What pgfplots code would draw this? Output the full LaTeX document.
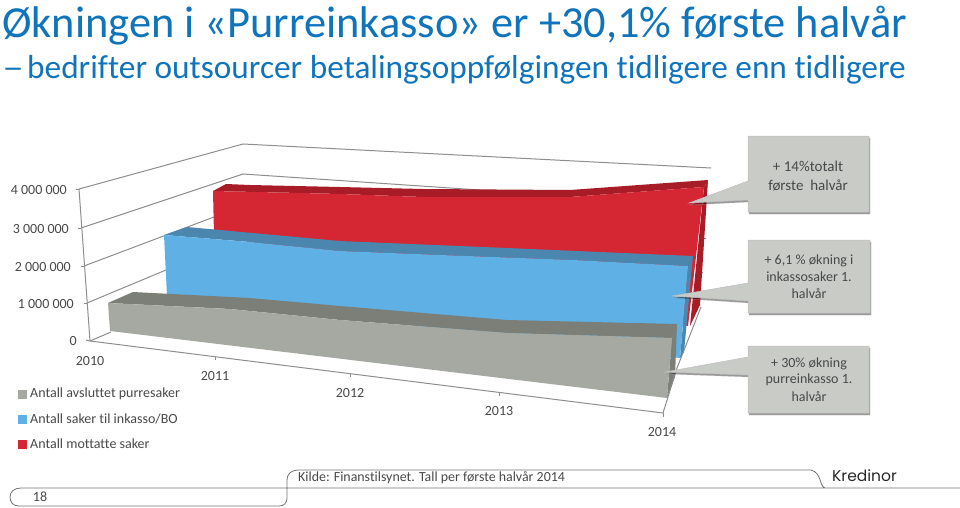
\documentclass[border=0pt]{standalone}
\usepackage{fontspec}
\setmainfont{Carlito}[Ligatures={TeX,NoCommon}]
\newfontfamily\logofont{Poppins}
\usepackage{pgfplots}
\pgfplotsset{compat=1.18}
\usetikzlibrary{shadows}

\definecolor{titleblue}{HTML}{0F74BC}
\definecolor{txt}{HTML}{484848}
\definecolor{wall}{HTML}{8E8E8E}
\definecolor{redf}{HTML}{D42633}
\definecolor{redt}{HTML}{A71C26}
\definecolor{bluef}{HTML}{5EB0E5}
\definecolor{bluet}{HTML}{4A86AE}
\definecolor{grayf}{HTML}{A6A9A1}
\definecolor{grayt}{HTML}{7C7E78}
\definecolor{boxfill}{HTML}{C9CBC7}

\begin{document}
\begin{tikzpicture}
\useasboundingbox (0,0) rectangle (960pt,508pt);
\begin{axis}[
    at={(0,0)}, anchor=south west,
    scale only axis, width=960pt, height=508pt,
    xmin=0, xmax=960, ymin=0, ymax=508,
    y dir=reverse,
    hide axis, clip=false,
    every axis plot/.append style={mark=none},
    face/.style={fill=#1, draw=none},
    grid3d/.style={draw=wall, line width=1pt},
    callout/.style={fill=boxfill, draw=black!25, line width=0.5pt,
        drop shadow={shadow xshift=1pt, shadow yshift=-2pt, opacity=0.4, fill=black}},
]
% walls and gridlines
\addplot[grid3d] coordinates {(79,189) (243,144) (711,168)};
\addplot[grid3d] coordinates {(81,228) (243,174) (480,190)};
\addplot[grid3d] coordinates {(84,266) (214,217)};
\addplot[grid3d] coordinates {(87,303) (166,270)};
\addplot[grid3d] coordinates {(90,341) (111,332)};
\addplot[grid3d] coordinates {(79,189) (90,341)};
\addplot[grid3d] coordinates {(76,189) (79,189)};
\addplot[grid3d] coordinates {(78,228) (81,228)};
\addplot[grid3d] coordinates {(81,266) (84,266)};
\addplot[grid3d] coordinates {(84,303) (87,303)};
\addplot[grid3d] coordinates {(86,340) (90,341)};
\addplot[grid3d] coordinates {(702,238) (706,238)};
\addplot[grid3d] coordinates {(698,272) (703,272)};

% red series: Antall mottatte saker
\addplot[face=redt] coordinates {(704,187) (708,180) (700,305) (690,326) (704,187)};
\addplot[face=redt] coordinates {(213,191) (226,184) (250,185) (340,187) (423,189) (570,190) (708,180) (704,187) (570,197) (423,197) (340,194) (300,193) (213,191)};
\addplot[face=redf] coordinates {(213,191) (300,193) (340,194) (423,197) (570,197) (704,187) (688,326) (214,235) (213,191)};

% blue series: Antall saker til inkasso/BO
\addplot[face=bluet] coordinates {(688,266) (693,256) (684,352) (680,358) (688,266)};
\addplot[face=bluet] coordinates {(164,235) (187,227) (340,241) (507,248) (693,256) (688,266) (573,260) (440,255) (340,251) (250,242) (164,235)};
\addplot[face=bluef] coordinates {(164,235) (250,242) (340,251) (440,255) (573,260) (688,266) (680,358) (167,296) (164,235)};

% gray series: Antall avsluttet purresaker
\addplot[face=grayt] coordinates {(672,338) (677,324) (675,377) (667,398) (672,338)};
\addplot[face=grayt] coordinates {(108,303) (133,292) (250,298) (340,306) (507,320) (677,324) (672,338) (507,333) (340,320) (230,309) (108,303)};
\addplot[face=grayf] coordinates {(108,303) (230,309) (340,320) (507,333) (672,338) (667,398) (110,331) (108,303)};

% floor
\addplot[grid3d] coordinates {(90,341) (663,413)};
\addplot[grid3d] coordinates {(663,413) (677,368) (690,335) (701,307)};
\addplot[grid3d] coordinates {(215,357) (215,360)};
\addplot[grid3d] coordinates {(350,374) (350,377)};
\addplot[grid3d] coordinates {(499,392) (499,396)};
\addplot[grid3d] coordinates {(663,413) (663,417)};

% callouts
\addplot[callout] coordinates {(748,136) (869,136) (869,212) (748,212) (748,200) (689,203) (748,181) (748,136)};
\addplot[callout] coordinates {(748,240) (870,240) (870,313) (748,313) (748,301) (672,296) (748,283) (748,240)};
\addplot[callout] coordinates {(748,346) (869,346) (869,413) (748,413) (748,375) (665,372) (748,357) (748,346)};

% legend
\addplot[only marks, mark=square*, mark size=4pt, color=grayf] coordinates {(22,394)};
\addplot[only marks, mark=square*, mark size=4pt, color=bluef] coordinates {(22,419)};
\addplot[only marks, mark=square*, mark size=4pt, color=redf] coordinates {(22,444)};

% title
\node[anchor=base west, inner sep=0, text=titleblue, font=\fontsize{44.4}{44.4}\selectfont] at (axis cs:2,38) {Økningen i «Purreinkasso» er +30,1\% første halvår};
\node[anchor=base west, inner sep=0, text=titleblue, transform shape, xscale=1.3, font=\fontsize{33.3}{33.3}\selectfont] at (axis cs:2,79) {–};
\node[anchor=base west, inner sep=0, text=titleblue, font=\fontsize{33.3}{33.3}\selectfont] at (axis cs:27,79) {bedrifter outsourcer betalingsoppfølgingen tidligere enn tidligere};

% tick labels
\begin{scope}[every node/.style={text=txt, inner sep=0, font=\fontsize{14}{14}\selectfont}]
\node[anchor=east] at (axis cs:67,190) {4 000 000};
\node[anchor=east] at (axis cs:69,229) {3 000 000};
\node[anchor=east] at (axis cs:71,267) {2 000 000};
\node[anchor=east] at (axis cs:74,304) {1 000 000};
\node[anchor=east] at (axis cs:77,341) {0};
\node at (axis cs:90,361) {2010};
\node at (axis cs:215,376) {2011};
\node at (axis cs:350,393) {2012};
\node at (axis cs:499,411) {2013};
\node at (axis cs:662,432) {2014};
\node[anchor=west] at (axis cs:30,394) {Antall avsluttet purresaker};
\node[anchor=west] at (axis cs:30,419) {Antall saker til inkasso/BO};
\node[anchor=west] at (axis cs:30,444) {Antall mottatte saker};
\node at (axis cs:40,497) {18};
\node[anchor=west, font=\fontsize{13.9}{13.9}\selectfont] at (axis cs:298,478) {Kilde: Finanstilsynet. Tall per første halvår 2014};
\node[font=\fontsize{15}{15}\selectfont] at (axis cs:808,166) {+ 14\%totalt};
\node[font=\fontsize{15}{15}\selectfont] at (axis cs:808,185) {første\ \ halvår};
\node at (axis cs:809,261) {+ 6,1 \% økning i};
\node at (axis cs:809,277) {inkassosaker 1.};
\node at (axis cs:809,294) {halvår};
\node at (axis cs:809,364) {+ 30\% økning};
\node at (axis cs:809,380) {purreinkasso 1.};
\node at (axis cs:809,397) {halvår};
\end{scope}

% footer tabs
\draw[black!55, line width=0.8pt] (axis cs:960,488) -- (axis cs:825,488)
  .. controls (axis cs:819,486) and (axis cs:822,473) .. (axis cs:811,470)
  -- (axis cs:299,470) .. controls (axis cs:291,470) and (axis cs:287,474) .. (axis cs:287,480)
  -- (axis cs:287,498) .. controls (axis cs:287,503) and (axis cs:284,506) .. (axis cs:279,506)
  -- (axis cs:19,506) .. controls (axis cs:13,506) and (axis cs:10,502) .. (axis cs:10,497)
  .. controls (axis cs:10,492) and (axis cs:14,488) .. (axis cs:21,488) -- (axis cs:825,488);
\node[anchor=west, inner sep=0, text=black!85, font=\logofont\fontsize{15.5}{15.5}\selectfont] at (axis cs:832,476) {Kredinor};
\end{axis}
\end{tikzpicture}
\end{document}
